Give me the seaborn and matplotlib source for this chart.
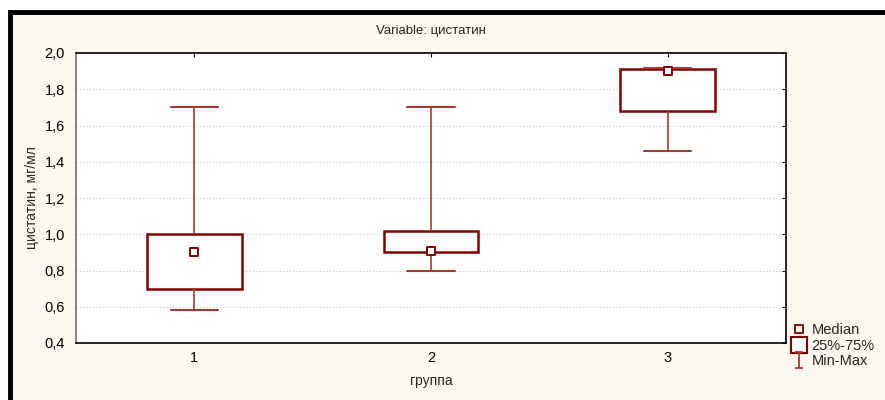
import pandas as pd
import matplotlib.pyplot as plt
import seaborn as sns
from matplotlib.lines import Line2D
from matplotlib.patches import Rectangle
from matplotlib.path import Path

# summary values (цистатин, мг/мл)
groups = ["1", "2", "3"]
mins = [0.58, 0.80, 1.46]
q1s = [0.70, 0.90, 1.68]
medians = [0.90, 0.91, 1.90]
q3s = [1.00, 1.02, 1.91]
maxs = [1.70, 1.70, 1.92]
yticks = [0.4, 0.6, 0.8, 1.0, 1.2, 1.4, 1.6, 1.8, 2.0]

# five points per group -> exact quartiles with linear percentiles
rows = []
for g, a, b, c, d, e in zip(groups, mins, q1s, medians, q3s, maxs):
    for v in (a, b, c, d, e):
        rows.append({"группа": g, "value": v})
df = pd.DataFrame(rows)
med_df = pd.DataFrame({"группа": groups, "median": medians})

sns.set_style("white")
plt.rcParams["font.family"] = ["Liberation Sans", "DejaVu Sans"]

dark = "#800000"
light = "#a23a3a"
cream = "#fdf9ee"

fig = plt.figure(figsize=(8.85, 4.0), dpi=100)
fig.patch.set_facecolor("white")
# cream panel with thick black frame on top/left (right/bottom run off the image)
fig.patches.append(Rectangle((10 / 885, -0.1), 1.2, 1.1 - 12 / 400, transform=fig.transFigure,
                             facecolor=cream, edgecolor="black", linewidth=3.5, zorder=-1))

ax = fig.add_axes([76 / 885, 1 - 343 / 400, 710 / 885, 290 / 400])
ax.set_facecolor("white")

sns.boxplot(data=df, x="группа", y="value", order=groups, ax=ax,
            whis=(0, 100), width=0.4, color="white", saturation=1,
            linecolor=dark, linewidth=1.8, showfliers=False,
            boxprops=dict(edgecolor=dark, linewidth=1.8),
            whiskerprops=dict(color=light, linewidth=1.2),
            capprops=dict(color=light, linewidth=1.5),
            medianprops=dict(visible=False))

sns.scatterplot(data=med_df, x="группа", y="median", ax=ax, marker="s", s=32,
                color="white", edgecolor=dark, linewidth=1.4, zorder=5, legend=False)

ax.set_xlim(-0.5, 2.5)
ax.set_ylim(0.4, 2.0)
ax.set_yticks(yticks)
ax.set_yticklabels([f"{t:.1f}".replace(".", ",") for t in yticks])
ax.yaxis.grid(True, linestyle=(0, (1, 2)), color="#c8c8c8", linewidth=0.8)
ax.set_axisbelow(True)

for side in ["top", "right", "bottom"]:
    ax.spines[side].set_color("black")
    ax.spines[side].set_linewidth(1.2)
ax.spines["left"].set_color("#707070")
ax.spines["left"].set_linewidth(1.2)

ax.tick_params(axis="both", direction="in", length=3, width=0.8, labelsize=10.5,
               colors="black", top=True, right=True, left=False, pad=6)
ax.tick_params(axis="y", pad=8)

ax.set_xlabel("группа", fontsize=10)
ax.set_ylabel("цистатин, мг/мл", fontsize=10)
ax.xaxis.set_label_coords(0.5, -0.108)
ax.yaxis.set_label_coords(-0.052, 0.5)
fig.text((76 + 786) / 2 / 885, 1 - 31 / 400, "Variable: цистатин",
         ha="center", va="center", fontsize=9.5)

# legend with Statistica-like symbols
ibeam = Path([(-0.5, 1), (0.5, 1), (0, 1), (0, -1), (-0.5, -1), (0.5, -1)],
             [Path.MOVETO, Path.LINETO, Path.MOVETO, Path.LINETO, Path.MOVETO, Path.LINETO])
handles = [
    Line2D([], [], ls="", marker="s", markersize=6, mfc="white", mec=dark, mew=1.3),
    Line2D([], [], ls="", marker="s", markersize=11, mfc="white", mec=dark, mew=1.5),
    Line2D([], [], ls="", marker=ibeam, markersize=12, color=light, mew=1.3),
]
fig.legend(handles, ["Median", "25%-75%", "Min-Max"], loc="upper left",
           bbox_to_anchor=(784 / 885, 1 - 316 / 400), frameon=False,
           fontsize=10.5, handlelength=1.0, handletextpad=0.4,
           labelspacing=0.1, borderpad=0)

fig.savefig("out.png", dpi=100, facecolor=fig.get_facecolor())
